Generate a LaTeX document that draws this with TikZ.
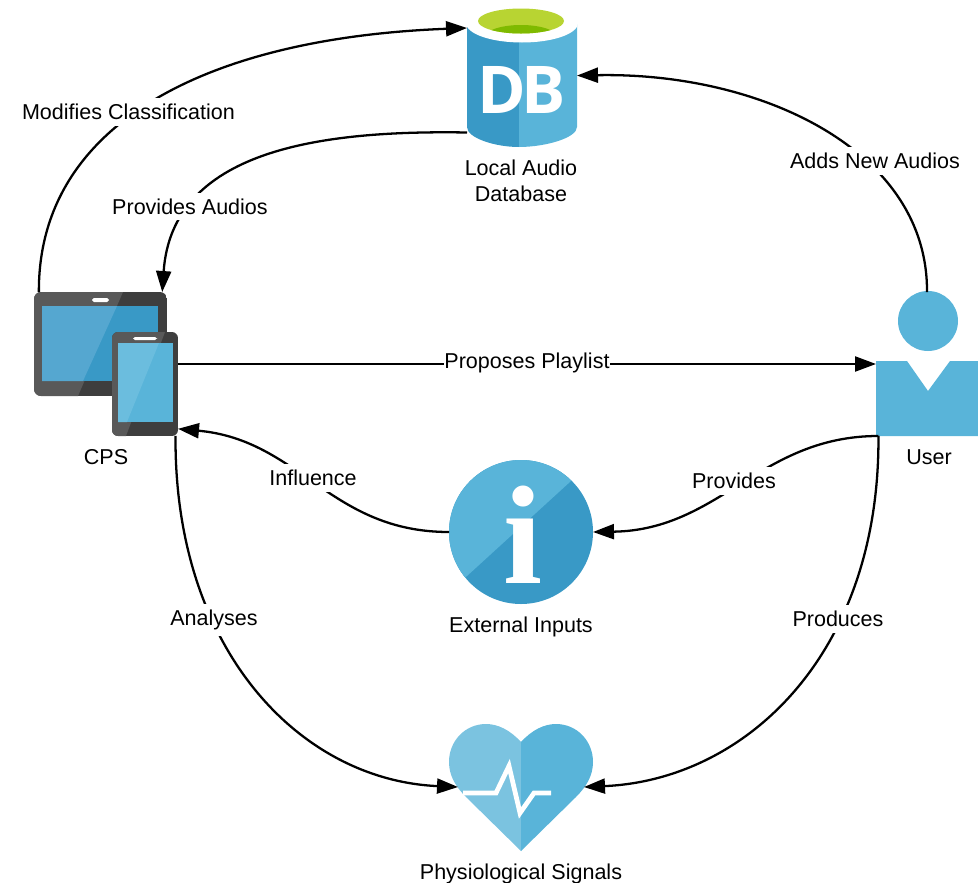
\documentclass[tikz,border=0pt]{standalone}
\usepackage{fontspec}
\setmainfont{Liberation Sans}
\newfontfamily\dbfont{Open Sans}
\newfontfamily\infofont{Liberation Serif}
\usetikzlibrary{arrows.meta}

\definecolor{azure}{HTML}{59B4D9}
\definecolor{azuredark}{HTML}{3999C6}
\definecolor{azurelight}{HTML}{7BC3E0}
\definecolor{azuresoft}{HTML}{55A7D0}
\definecolor{azurepale}{HTML}{6BBDDE}
\definecolor{limegreen}{HTML}{B8D432}
\definecolor{leafgreen}{HTML}{7FBA00}
\definecolor{slate}{HTML}{595959}
\definecolor{slatedark}{HTML}{3E3E3E}

\tikzset{
	iconbox/.style={rectangle, inner sep=0pt, outer sep=0pt},
	caption/.style={font=\fontsize{12.25}{14.9}\selectfont, align=center, inner sep=0pt},
	edgelabel/.style={font=\fontsize{12.25}{14}\selectfont, fill=white, inner xsep=0.5pt, inner ysep=3.2pt},
	conn/.style={draw=black, line width=1.3pt, -{Triangle[length=0.42cm, width=0.3cm]}}
}

\begin{document}
\begin{tikzpicture}[x=0.02cm, y=-0.02cm]
	\path[use as bounding box] (0,0) rectangle (978,883);

	% Database icon
	\node[iconbox, minimum width=2.2cm, minimum height=2.78cm] (db) at (522,77.5) {};
	\fill[azuredark] (467,23) -- (467,127) .. controls (467,138) and (495,147) .. (519,147) -- (519,23) -- cycle;
	\fill[azure] (519,23) -- (519,147) .. controls (545,147) and (577,138) .. (577,127) -- (577,23) -- cycle;
	\fill[white] (522,23) ellipse [x radius=56, y radius=19.5];
	\fill[limegreen] (521,21) ellipse [x radius=43, y radius=12.5];
	\begin{scope}
		\clip (521,21) ellipse [x radius=43, y radius=12.5];
		\fill[leafgreen] (521,37) ellipse [x radius=36, y radius=12];
	\end{scope}
	\node[iconbox, text=white, font=\dbfont\bfseries\fontsize{37.5}{37.5}\selectfont] (dbtext) at (521.5,89.5) {D\kern-2.5pt B};

	% Tablet and phone
	\node[iconbox, minimum width=2.88cm, minimum height=2.88cm] (cps) at (106,364) {};
	\begin{scope}
		\clip[rounded corners=4pt] (34,292) rectangle (167,396);
		\fill[slatedark] (34,292) rectangle (167,396);
		\fill[slate] (34,292) -- (123,292) -- (78,396) -- (34,396) -- cycle;
	\end{scope}
	\fill[azuredark] (42,306) rectangle (158,381);
	\fill[azuresoft] (42,306) -- (117,306) -- (83,381) -- (42,381) -- cycle;
	\fill[white, rounded corners=1.1pt] (92,298) rectangle (109,302);
	\begin{scope}
		\clip[rounded corners=3.5pt] (112,332) rectangle (178,436);
		\fill[slatedark] (112,332) rectangle (178,436);
		\fill[slate] (112,332) -- (165,332) -- (126,436) -- (112,436) -- cycle;
	\end{scope}
	\fill[azure] (118,343) rectangle (173,422);
	\fill[azurepale] (118,343) -- (159,343) -- (127,422) -- (118,422) -- cycle;
	\fill[white, rounded corners=1.1pt] (133,337) rectangle (157,340);

	% User icon
	\node[iconbox, minimum width=2.04cm, minimum height=2.88cm] (user) at (927,364) {};
	\fill[azure] (928,321) circle (30);
	\fill[azure] (876,361) -- (907,361) -- (928,391) -- (950,361) -- (978,361) -- (978,436) -- (876,436) -- cycle;

	% Info icon
	\node[circle, iconbox, minimum size=2.88cm] (info) at (521,532) {};
	\fill[azuredark] (521,532) circle (72);
	\begin{scope}
		\clip (521,532) circle (72);
		\fill[azure] (467,576) -- (571,481) -- (560,440) -- (430,440) -- (430,610) -- cycle;
	\end{scope}
	\node[iconbox, text=white, font=\infofont\bfseries\fontsize{80}{80}\selectfont] (infotext) at (523,535) {i};

	% Heart icon
	\node[iconbox, minimum width=2.52cm, minimum height=2.52cm] (heart) at (521,787) {};
	\fill[azurelight] (521,742) .. controls (510,730) and (498,724) .. (486,724) .. controls (465,724) and (449,741) .. (449,762) .. controls (449,776) and (456,787) .. (466,797) -- (521,851) -- cycle;
	\fill[azure] (521,742) .. controls (532,730) and (544,724) .. (556,724) .. controls (577,724) and (593,741) .. (593,762) .. controls (593,776) and (586,787) .. (576,797) -- (521,851) -- cycle;
	\draw[white, line width=2.7pt] (463,793) -- (496,793) -- (509,766) -- (520,813) -- (534,793) -- (551,793);

	% Captions
	\node[caption] (dbname) at (521,181) {Local Audio\\Database};
	\node[caption] (cpsname) at (106,457) {CPS};
	\node[caption] (username) at (929,457) {User};
	\node[caption] (infoname) at (521,627) {External Inputs};
	\node[caption] (heartname) at (521,874) {Physiological Signals};

	% Connectors
	\draw[conn] (cps.133.4) .. controls (38,125) and (205,38) .. (db.138.6);
	\draw[conn] (db.225.3) .. controls (320,130) and (172,150) .. (cps.52.1);
	\draw[conn] (user.north) .. controls (928,150) and (760,72) .. (db.2.6);
	\draw[conn] (cps.east) -- (user.west);
	\draw[conn] (user.236.7) .. controls (760,436) and (720,530) .. (info.east);
	\draw[conn] (info.west) .. controls (330,532) and (300,440) .. (cps.-42.5);
	\draw[conn] (cps.-46.6) .. controls (174,650) and (300,780) .. (heart.west);
	\draw[conn] (user.236.7) .. controls (880,655) and (745,780) .. (heart.east);

	% Connector labels
	\node[edgelabel] (lblmodifies) at (128.5,112) {Modifies Classification};
	\node[edgelabel] (lblaudios) at (190,206.5) {Provides Audios};
	\node[edgelabel] (lbladds) at (875,161) {Adds New Audios};
	\node[edgelabel] (lblplaylist) at (527,363) {Proposes Playlist};
	\node[edgelabel] (lblprovides) at (734,481) {Provides};
	\node[edgelabel] (lblinfluence) at (313,478) {Influence};
	\node[edgelabel] (lblanalyses) at (214,620) {Analyses};
	\node[edgelabel] (lblproduces) at (838,619) {Produces};
\end{tikzpicture}
\end{document}
